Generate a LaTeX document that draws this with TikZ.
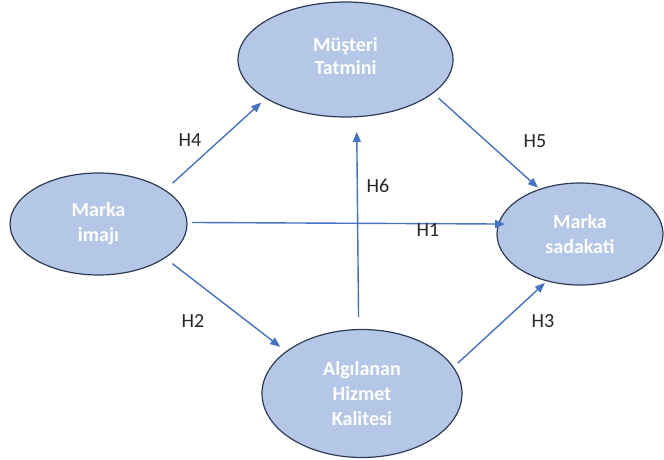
\documentclass[tikz,border=0pt]{standalone}
\usepackage{fontspec}
\setmainfont{Carlito}
\usetikzlibrary{shapes.geometric,arrows.meta}
\definecolor{elipsdolgu}{HTML}{B4C7E7}
\definecolor{elipscizgi}{HTML}{2E3B55}
\definecolor{okmavi}{HTML}{4472C4}
\tikzset{
  yapi/.style={ellipse, draw=elipscizgi, line width=1.2pt, fill=elipsdolgu,
    inner sep=0pt, outer sep=0pt, align=center, text=white,
    font=\fontsize{20}{25}\selectfont\bfseries},
  hipotez/.style={-{Triangle[length=10pt,width=8pt]}, draw=okmavi, line width=1.4pt},
  etiket/.style={font=\fontsize{20}{24}\selectfont, text=black!85}
}
\begin{document}
\begin{tikzpicture}[x=1pt, y=-1pt]
        \useasboundingbox (0,0) rectangle (664,460);

        % Yapilar
        \node[yapi, minimum width=215pt, minimum height=115pt] (tatmin) at (345.5,59.5) {\raisebox{7pt}{\shortstack{Müşteri\\[3pt]Tatmini}}};
        \node[yapi, minimum width=177pt, minimum height=102pt] (imaj) at (98.5,224) {Marka\\imajı};
        \node[yapi, minimum width=166pt, minimum height=102pt] (sadakat) at (580,234) {Marka\\sadakati};
        \node[yapi, minimum width=200pt, minimum height=128pt] (kalite) at (362,393.5) {Algılanan\\Hizmet\\Kalitesi};

        % Hipotez oklari
        \draw[hipotez, shorten <=10.4pt, shorten >=6.5pt] (imaj.27.4) -- (tatmin.206.5);
        \draw[hipotez, shorten <=4.8pt, shorten >=-6.4pt] (imaj.1.5) -- (sadakat.173);
        \draw[hipotez, shorten <=9.4pt, shorten >=7.8pt] (imaj.333.7) -- (kalite.151.2);
        \draw[hipotez, shorten <=12.5pt, shorten >=15.3pt] (kalite.93.6) -- (tatmin.281.4);
        \draw[hipotez, shorten <=7.7pt, shorten >=2.5pt] (tatmin.339.5) -- (sadakat.132.9);
        \draw[hipotez, shorten <=6.2pt, shorten >=3.1pt] (kalite.16.9) -- (sadakat.235.1);

        % Etiketler
        \node[etiket] (h4) at (190,140) {H4};
        \node[etiket] (h5) at (535,141) {H5};
        \node[etiket] (h6) at (378,186) {H6};
        \node[etiket] (h1) at (428,230) {H1};
        \node[etiket] (h2) at (193,321) {H2};
        \node[etiket] (h3) at (543,321) {H3};

    \end{tikzpicture}
\end{document}
